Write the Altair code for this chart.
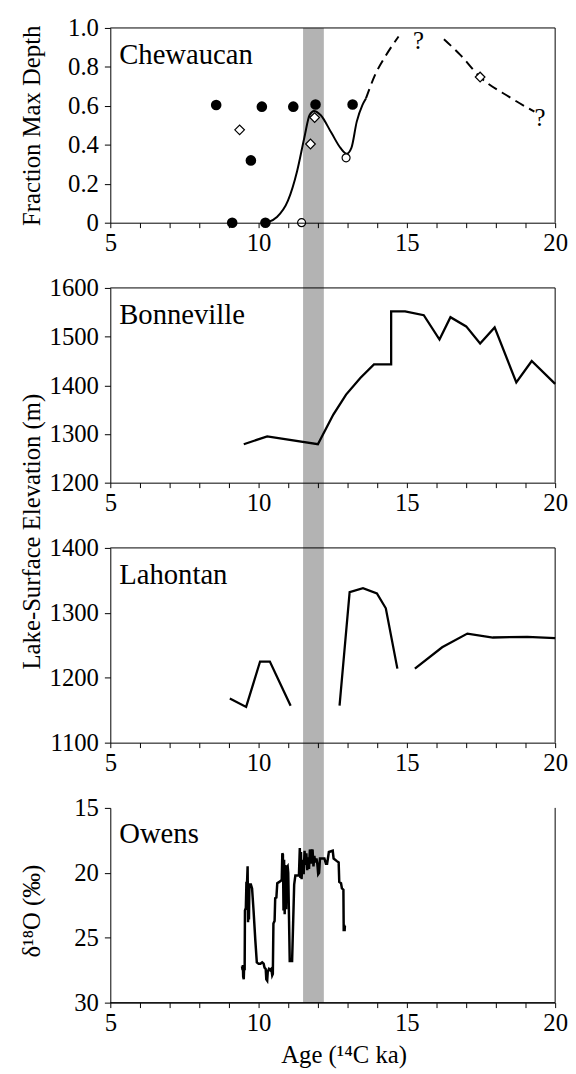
import altair as alt
import pandas as pd

# ------------------------------------------------------------------ data
X_DOMAIN = [5, 20]
X_TICKS = list(range(5, 21))
BAND = [11.5, 12.2]

# Chewaucan
chew_filled_age = [8.57, 9.11, 9.74, 10.11, 10.23, 11.17, 11.92, 13.17]
chew_filled_frac = [0.604, 0.0, 0.32, 0.596, 0.0, 0.596, 0.607, 0.607]
chew_open_age = [11.45, 12.95]
chew_open_frac = [0.0, 0.333]
chew_diamond_age = [9.36, 11.75, 11.89, 17.47]
chew_diamond_frac = [0.477, 0.404, 0.54, 0.748]
chew_curve_age = [10.23, 10.32, 10.62, 10.99, 11.30, 11.54, 11.72, 11.87, 12.09,
                  12.46, 12.76, 12.97, 13.13, 13.31, 13.50, 13.62]
chew_curve_frac = [0.0, 0.003, 0.029, 0.113, 0.266, 0.435, 0.553, 0.574, 0.553,
                   0.46, 0.384, 0.354, 0.384, 0.519, 0.604, 0.638]
chew_dashA_age = [13.62, 13.92, 14.29, 14.72]
chew_dashA_frac = [0.638, 0.756, 0.858, 0.956]
chew_dashB_age = [16.25, 16.8, 17.47, 18.45, 19.30]
chew_dashB_frac = [0.942, 0.862, 0.748, 0.646, 0.570]
chew_q_age = [15.39, 19.49]
chew_q_frac = [0.934, 0.536]

# Bonneville
bonn_age = [9.50, 10.29, 12.00, 12.52, 12.95, 13.43, 13.89, 14.47, 14.47, 14.94,
            15.57, 16.10, 16.47, 17.00, 17.47, 17.96, 18.69, 19.21, 20.0]
bonn_elev = [1279, 1295, 1279, 1340, 1381, 1415, 1443, 1443, 1552, 1552,
             1544, 1494, 1540, 1521, 1486, 1519, 1406, 1450, 1403]

# Lahontan (three separate segments)
lah_a_age = [9.03, 9.58, 10.05, 10.38, 11.08]
lah_a_elev = [1168, 1155, 1225, 1225, 1157]
lah_b_age = [12.73, 13.07, 13.52, 13.99, 14.29, 14.68]
lah_b_elev = [1157, 1332, 1338, 1330, 1307, 1214]
lah_c_age = [15.27, 16.19, 17.04, 17.90, 19.06, 20.0]
lah_c_elev = [1214, 1247, 1268, 1262, 1263, 1261]

# Owens
owens_age = [9.44, 9.46, 9.47, 9.48, 9.50, 9.51, 9.53, 9.54, 9.57, 9.59, 9.61, 9.63,
             9.645, 9.66, 9.675, 9.69, 9.74, 9.78, 9.83, 9.89, 9.94, 10.00, 10.06,
             10.12, 10.17, 10.20, 10.24, 10.26, 10.29, 10.31, 10.35, 10.39, 10.43,
             10.46, 10.48, 10.50, 10.54, 10.56, 10.60, 10.63, 10.70, 10.78, 10.80,
             10.82, 10.84, 10.86, 10.88, 10.90, 10.93, 10.95, 10.98, 11.00, 11.05,
             11.13, 11.20, 11.24, 11.36, 11.39, 11.41, 11.43, 11.45, 11.48, 11.52,
             11.55, 11.58, 11.61, 11.64, 11.67, 11.70, 11.73, 11.76, 11.79, 11.82,
             11.85, 11.88, 11.91, 11.95, 11.98, 12.01, 12.04, 12.07, 12.11, 12.22,
             12.27, 12.31, 12.37, 12.50, 12.53, 12.64, 12.70, 12.72, 12.78, 12.81,
             12.86, 12.87, 12.89, 12.90, 12.91]
owens_d18o = [27.2, 27.5, 27.1, 28.0, 28.2, 27.4, 27.5, 22.9, 22.7, 20.7, 20.8, 19.5,
              23.8, 21.0, 23.6, 20.9, 20.9, 21.2, 22.9, 25.2, 26.9, 27.0, 27.0,
              26.9, 27.0, 27.3, 27.4, 28.2, 28.3, 27.6, 27.4, 27.5, 27.4,
              27.9, 27.8, 23.9, 23.7, 21.95, 21.9, 20.8, 20.7, 20.55, 18.5,
              18.6, 22.9, 19.0, 23.2, 19.4, 22.8, 19.6, 19.5, 20.0, 26.8,
              26.8, 20.9, 20.2, 20.2, 18.1, 20.4, 18.4, 20.5, 19.0, 20.1,
              18.3, 19.4, 18.5, 19.8, 18.8, 19.7, 18.2, 19.3, 18.4, 18.2,
              19.5, 18.7, 19.2, 18.9, 19.3, 20.1, 20.0, 18.9, 18.9, 18.9,
              19.3, 19.3, 18.4, 18.3, 18.9, 19.1, 19.2, 20.7, 20.8, 21.2,
              21.3, 24.5, 24.0, 24.5, 24.1]

# ------------------------------------------------------------------ style
W, H, GAP = 450, 197, 66
FONT = "Liberation Serif"
GRAY = "#b3b3b3"


def x_enc(field, last):
    axis_kw = dict(values=X_TICKS,
                   labelExpr="datum.value % 5 == 0 ? datum.label : ''",
                   zindex=1)
    if last:
        axis_kw.update(titleX=236, titleY=61, titleAlign="center",
                       titleBaseline="alphabetic")
    return alt.X(f"{field}:Q",
                 scale=alt.Scale(domain=X_DOMAIN, nice=False, zero=False),
                 axis=alt.Axis(**axis_kw),
                 title="Age (¹⁴C ka)" if last else None)


def y_enc(field, domain, values, title, fmt=None, label_expr=None,
          reverse=False, title_y=None):
    axis_kw = dict(values=values, zindex=1, titleX=-80, titleAngle=270,
                   titleBaseline="middle", titleAlign="center")
    if fmt:
        axis_kw["format"] = fmt
    if label_expr:
        axis_kw["labelExpr"] = label_expr
    if title_y is not None:
        axis_kw["titleY"] = title_y
    scale_kw = dict(domain=domain, nice=False, zero=False)
    if reverse:
        scale_kw["reverse"] = True
    return alt.Y(f"{field}:Q", scale=alt.Scale(**scale_kw),
                 axis=alt.Axis(**axis_kw), title=title if title else None)


def frame_layers(domain, last, yy):
    ymin, ymax = domain
    band = alt.Chart(pd.DataFrame({"a": [BAND[0]], "b": [BAND[1]]})).mark_rect(
        color=GRAY).encode(
        x=x_enc("a", last), x2="b",
        y=alt.value(0), y2=alt.value(H if last else H + GAP))
    top = alt.Chart(pd.DataFrame({"a": [X_DOMAIN[0]], "b": [X_DOMAIN[1]],
                                  "v": [ymax]})).mark_rule(
        color="black", strokeWidth=1).encode(x=x_enc("a", last), x2="b", y=yy("v"))
    right = alt.Chart(pd.DataFrame({"a": [X_DOMAIN[1]], "v": [ymin],
                                    "w": [ymax]})).mark_rule(
        color="black", strokeWidth=1).encode(x=x_enc("a", last), y=yy("v"), y2="w")
    return [band, top, right]


def label_layer(name):
    return alt.Chart(pd.DataFrame({"label": [name]})).mark_text(
        align="left", baseline="alphabetic", font=FONT, fontSize=29,
        color="black").encode(text="label:N", x=alt.value(9), y=alt.value(36))


# ------------------------------------------------------------------ panel 1
d1 = [0, 1]
yy1 = lambda f: y_enc(f, d1, [0, 0.2, 0.4, 0.6, 0.8, 1.0], "Fraction Max Depth",
                      label_expr="datum.value == 0 ? '0' : format(datum.value, '.1f')")
curve = alt.Chart(pd.DataFrame({"age": chew_curve_age, "f": chew_curve_frac})).mark_line(
    color="black", strokeWidth=2, interpolate="monotone").encode(
    x=x_enc("age", False), y=yy1("f"))
dashA = alt.Chart(pd.DataFrame({"age": chew_dashA_age, "f": chew_dashA_frac})).mark_line(
    color="black", strokeWidth=2, strokeDash=[10, 6], interpolate="monotone").encode(
    x=x_enc("age", False), y=yy1("f"))
dashB = alt.Chart(pd.DataFrame({"age": chew_dashB_age, "f": chew_dashB_frac})).mark_line(
    color="black", strokeWidth=2, strokeDash=[10, 6], interpolate="monotone").encode(
    x=x_enc("age", False), y=yy1("f"))
filled = alt.Chart(pd.DataFrame({"age": chew_filled_age, "f": chew_filled_frac})).mark_point(
    shape="circle", filled=True, color="black", size=115, opacity=1).encode(
    x=x_enc("age", False), y=yy1("f"))
opened = alt.Chart(pd.DataFrame({"age": chew_open_age, "f": chew_open_frac})).mark_point(
    shape="circle", filled=True, fill="white", stroke="black", strokeWidth=1.2,
    size=65, opacity=1).encode(x=x_enc("age", False), y=yy1("f"))
diam = alt.Chart(pd.DataFrame({"age": chew_diamond_age, "f": chew_diamond_frac})).mark_point(
    shape="diamond", filled=True, fill="white", stroke="black", strokeWidth=1.2,
    size=95, opacity=1).encode(x=x_enc("age", False), y=yy1("f"))
qs = alt.Chart(pd.DataFrame({"age": chew_q_age, "f": chew_q_frac, "t": ["?", "?"]})).mark_text(
    font=FONT, fontSize=25, color="black", baseline="middle").encode(
    x=x_enc("age", False), y=yy1("f"), text="t:N")
p1 = alt.layer(*frame_layers(d1, False, yy1), curve, dashA, dashB, filled, opened,
               diam, qs, label_layer("Chewaucan")).properties(width=W, height=H)

# ------------------------------------------------------------------ panel 2
d2 = [1200, 1600]
yy2 = lambda f: y_enc(f, d2, [1200, 1300, 1400, 1500, 1600],
                      "Lake-Surface Elevation (m)", fmt="d", title_y=246)
bonn = alt.Chart(pd.DataFrame({"age": bonn_age, "e": bonn_elev})).mark_line(
    color="black", strokeWidth=2.3).encode(x=x_enc("age", False), y=yy2("e"))
p2 = alt.layer(*frame_layers(d2, False, yy2), bonn,
               label_layer("Bonneville")).properties(width=W, height=H)

# ------------------------------------------------------------------ panel 3
d3 = [1100, 1400]
yy3 = lambda f: y_enc(f, d3, [1100, 1200, 1300, 1400], None, fmt="d")
lah_df = pd.concat([
    pd.DataFrame({"age": lah_a_age, "e": lah_a_elev, "seg": "a"}),
    pd.DataFrame({"age": lah_b_age, "e": lah_b_elev, "seg": "b"}),
    pd.DataFrame({"age": lah_c_age, "e": lah_c_elev, "seg": "c"}),
])
lah = alt.Chart(lah_df).mark_line(color="black", strokeWidth=2.3).encode(
    x=x_enc("age", False), y=yy3("e"), detail="seg:N")
p3 = alt.layer(*frame_layers(d3, False, yy3), lah,
               label_layer("Lahontan")).properties(width=W, height=H)

# ------------------------------------------------------------------ panel 4
d4 = [15, 30]
yy4 = lambda f: y_enc(f, d4, [15, 20, 25, 30], "δ¹⁸O (‰)", fmt="d",
                      reverse=True, title_y=104)
owens = alt.Chart(pd.DataFrame({"age": owens_age, "d": owens_d18o,
                                "i": list(range(len(owens_age)))})).mark_line(
    color="black", strokeWidth=2.5).encode(x=x_enc("age", True), y=yy4("d"),
                                          order="i:Q")
p4 = alt.layer(*frame_layers(d4, True, yy4), owens,
               label_layer("Owens")).properties(width=W, height=H)

chart = alt.vconcat(p1, p2, p3, p4, spacing=GAP, bounds="flush").properties(
    padding={"left": 11.5, "top": 2, "right": 0, "bottom": 0}
).configure_view(stroke=None).configure_axis(
    labelFont=FONT, titleFont=FONT, labelFontSize=25, titleFontSize=25,
    titleFontWeight="normal", labelColor="black", titleColor="black",
    tickColor="black", domainColor="black", grid=False, domainWidth=1,
    tickWidth=1
).configure_axisX(tickSize=5, labelPadding=3, labelFlush=False,
                  labelOverlap=False
).configure_axisY(tickSize=6, labelPadding=6)

chart.save("out.html", embed_options={"renderer": "svg", "actions": False})
